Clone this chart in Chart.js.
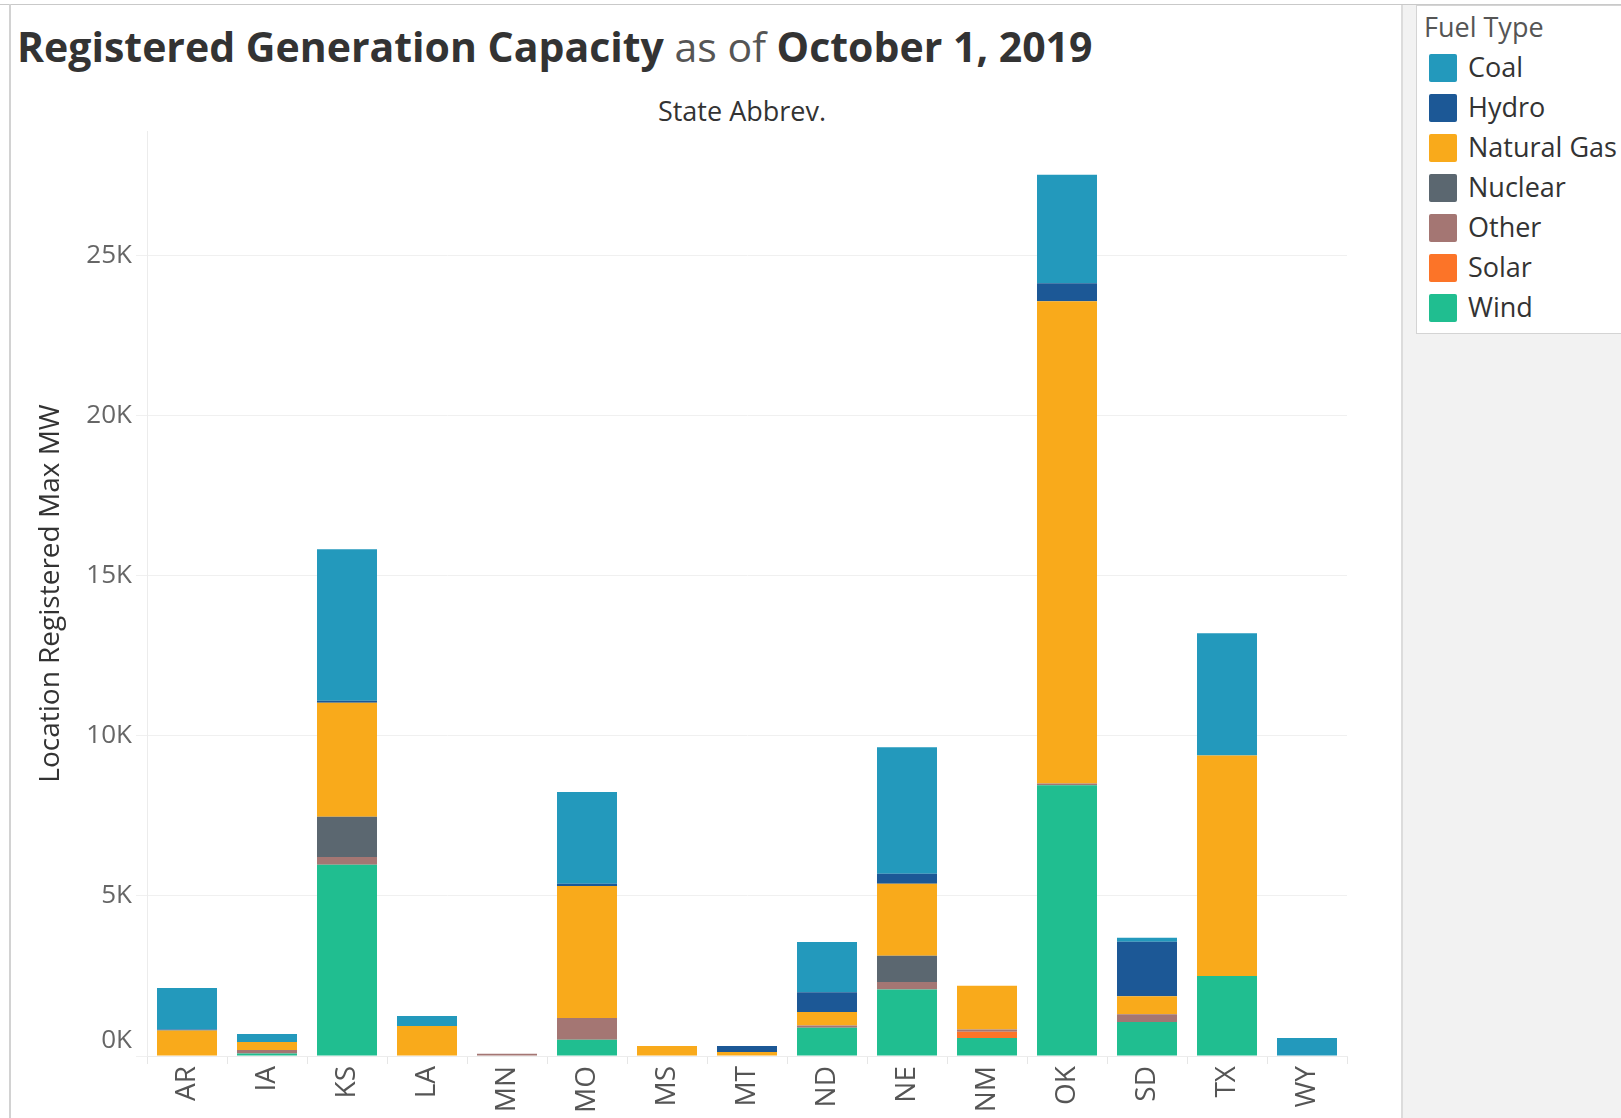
<!DOCTYPE html>
<html lang="en">
<head>
  <meta charset="UTF-8">
  <title>Registered Generation Capacity</title>
  <script src="https://cdn.jsdelivr.net/npm/chart.js"></script>
  <style>
    body { margin: 0; width: 1621px; height: 1118px; position: relative; overflow: hidden; background: #fff; font-family: "Open Sans", "Noto Sans", sans-serif; }
    #topLine { position: absolute; left: 0; top: 4px; width: 1621px; height: 1px; background: #c9c9c9; }
    #leftLine { position: absolute; left: 9px; top: 4px; width: 2px; height: 1114px; background: #d2d2d2; }
    #panel { position: absolute; left: 1401px; top: 5px; width: 220px; height: 1113px; background: #f2f2f2; border-left: 2px solid #dcdcdc; }
    #legend { position: absolute; left: 1416px; top: 5px; width: 220px; height: 327px; background: #fff; border: 1px solid #d4d4d4; }
    #legend .head { position: absolute; left: 7px; top: 2px; font-size: 27px; color: #555; }
    #legend .item { position: absolute; left: 12px; height: 30px; font-size: 27px; color: #333; line-height: 30px; white-space: nowrap; }
    #legend .sw { display: inline-block; width: 28px; height: 28px; border-radius: 2px; vertical-align: middle; margin-right: 11px; position: relative; top: -2px; }
    #title { position: absolute; left: 17px; top: 18px; font-size: 41px; color: #555; white-space: nowrap; }
    #title b { color: #333; }
    #colTitle { position: absolute; left: 592px; width: 300px; top: 92px; text-align: center; font-size: 27px; color: #333; }
    #chartCanvas { position: absolute; left: 0; top: 0; }
  </style>
</head>
<body>
  <div id="topLine"></div>
  <div id="leftLine"></div>
  <div id="panel"></div>
  <div id="legend"><div class="head">Fuel Type</div></div>
  <div id="title"><b>Registered Generation Capacity</b> as of <b>October 1, 2019</b></div>
  <div id="colTitle">State Abbrev.</div>
  <canvas id="chartCanvas" width="1400" height="1118"></canvas>

  <script>
    const states = ['AR', 'IA', 'KS', 'LA', 'MN', 'MO', 'MS', 'MT', 'ND', 'NE', 'NM', 'OK', 'SD', 'TX', 'WY'];

    // MW per state
    const coal       = [1295, 255, 4735, 310, 0, 2865, 0, 0, 1575, 3950, 0, 3385, 125, 3820, 560];
    const hydro      = [30, 0, 65, 0, 0, 75, 0, 185, 615, 315, 0, 565, 1700, 0, 0];
    const naturalGas = [800, 250, 3560, 940, 0, 4125, 310, 125, 425, 2250, 1365, 15070, 565, 6890, 0];
    const nuclear    = [0, 0, 1260, 0, 0, 0, 0, 0, 0, 815, 0, 0, 0, 0, 0];
    const other      = [0, 110, 240, 0, 70, 675, 0, 0, 65, 240, 75, 50, 240, 0, 0];
    const solar      = [0, 0, 0, 0, 0, 0, 0, 0, 0, 0, 190, 0, 0, 0, 0];
    const wind       = [0, 75, 5975, 0, 0, 510, 0, 0, 885, 2075, 565, 8460, 1065, 2500, 0];

    const yTicks = [0, 5000, 10000, 15000, 20000, 25000];

    const fuels = [
      { name: 'Coal', data: coal, color: '#2399BC' },
      { name: 'Hydro', data: hydro, color: '#1C5896' },
      { name: 'Natural Gas', data: naturalGas, color: '#F9AA1B' },
      { name: 'Nuclear', data: nuclear, color: '#5B6770' },
      { name: 'Other', data: other, color: '#A47673' },
      { name: 'Solar', data: solar, color: '#FC7428' },
      { name: 'Wind', data: wind, color: '#20BE90' }
    ];

    // legend box
    const legend = document.getElementById('legend');
    fuels.forEach((f, i) => {
      const row = document.createElement('div');
      row.className = 'item';
      row.style.top = (46 + i * 40) + 'px';
      row.innerHTML = '<span class="sw" style="background:' + f.color + '"></span>' + f.name;
      legend.appendChild(row);
    });

    // Tableau stacks Wind at the bottom, Coal on top
    const datasets = fuels.slice().reverse().map(f => ({
      label: f.name,
      data: f.data,
      backgroundColor: f.color,
      borderWidth: 0,
      categoryPercentage: 1,
      barPercentage: 0.75
    }));

    const ctx = document.getElementById('chartCanvas').getContext('2d');
    new Chart(ctx, {
      type: 'bar',
      data: { labels: states, datasets: datasets },
      options: {
        responsive: false,
        animation: false,
        layout: { padding: { top: 131, right: 53, left: 0, bottom: 0 } },
        plugins: { legend: { display: false }, tooltip: { enabled: false } },
        scales: {
          x: {
            stacked: true,
            grid: { offset: true, drawOnChartArea: false, tickLength: 8, color: '#e6e6e6' },
            border: { color: '#ececec' },
            ticks: {
              minRotation: 90, maxRotation: 90, padding: 2,
              color: '#555', font: { family: 'Open Sans', size: 28 }
            },
            afterFit: axis => { axis.height = 62; }
          },
          y: {
            stacked: true,
            min: 0,
            max: 28900,
            afterBuildTicks: axis => { axis.ticks = yTicks.map(v => ({ value: v })); },
            grid: { color: '#f0f0f0', tickLength: 11 },
            border: { color: '#ececec' },
            ticks: {
              padding: 4,
              color: '#666',
              font: { family: 'Open Sans', size: 26 },
              // Tableau lifts the bottom label above the baseline
              callback: v => v === 0 ? ['0K', ''] : (v / 1000) + 'K'
            },
            title: {
              display: true,
              text: 'Location Registered Max MW',
              color: '#333',
              font: { family: 'Open Sans', size: 28 },
              padding: { top: 34, bottom: 0 }
            },
            afterFit: axis => { axis.width = 147; }
          }
        }
      }
    });
  </script>
</body>
</html>
